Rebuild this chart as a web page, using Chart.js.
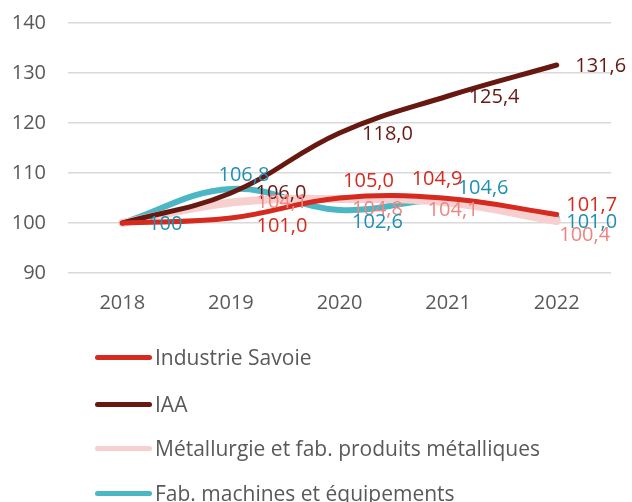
<!DOCTYPE html>
<html lang="fr">
<head>
  <meta charset="UTF-8" />
  <title>Indices industrie Savoie</title>
  <script src="https://cdn.jsdelivr.net/npm/chart.js"></script>
  <style>
    html, body { margin: 0; padding: 0; background: #fff; }
    body { width: 632px; height: 502px; overflow: hidden; position: relative; font-family: "Open Sans", Lato, sans-serif; }
    #wrap { position: absolute; left: 0; top: 0; width: 632px; height: 502px; }
    #legend { position: absolute; left: 95px; top: 342px; }
    .item { position: absolute; left: 0; height: 30px; white-space: nowrap; color: #595959; font-size: 21px; }
    .item span.line { position: absolute; left: 0; top: 13px; width: 57px; height: 5px; border-radius: 3px; }
    .item span.txt { position: absolute; left: 60px; top: 0px; line-height: 30px; }
  </style>
</head>
<body>
  <div id="wrap"><canvas id="chart" width="632" height="502"></canvas></div>
  <div id="legend"></div>

  <script>
    const years = ['2018', '2019', '2020', '2021', '2022'];
    const industrieSavoie = [100, 101.0, 105.0, 104.9, 101.7];
    const iaa = [100, 106.0, 118.0, 125.4, 131.6];
    const metallurgie = [100, 104.1, 104.8, 104.1, 100.4];
    const machines = [100, 106.8, 102.6, 104.6, 101.0];
    const yTicks = [90, 100, 110, 120, 130, 140];

    // label placement (pixel offsets from the point), null = hidden
    const offIndustrie = [null, [51, 8], [29, -17], [-11, -19], [35, -9]];
    const offIaa = [null, [50, 0], [48, 1], [46, 1], [44, 1]];
    const offMetal = [null, [51, 0], [38, 10], [5, 8], [28, 14]];
    const offMachines = [[43, 1], [13, -14], [38, 12], [35, -12], [35, 4]];

    const series = [
      { label: 'Industrie Savoie', data: industrieSavoie, color: '#d52a1d', text: '#d52a1d', width: 5, offs: offIndustrie },
      { label: 'IAA', data: iaa, color: '#661811', text: '#661811', width: 5, offs: offIaa },
      { label: 'Métallurgie et fab. produits métalliques', data: metallurgie, color: '#f7cfcf', text: '#ef8580', width: 8, offs: offMetal },
      { label: 'Fab. machines et équipements', data: machines, color: '#4bb6c4', text: '#1f8fb4', width: 6, offs: offMachines }
    ];

    function fmt(v) {
      if (v === 100) return '100';
      return v.toFixed(1).replace('.', ',');
    }

    const labelPlugin = {
      id: 'pointLabels',
      afterDatasetsDraw(chart) {
        const ctx = chart.ctx;
        ctx.save();
        ctx.font = '20px "Open Sans", Lato, sans-serif';
        ctx.textAlign = 'center';
        ctx.textBaseline = 'middle';
        chart.data.datasets.forEach((ds, i) => {
          const meta = chart.getDatasetMeta(i);
          const s = series[i];
          meta.data.forEach((pt, j) => {
            const o = s.offs[j];
            if (!o) return;
            ctx.fillStyle = s.text;
            ctx.fillText(fmt(ds.data[j]), pt.x + o[0], pt.y + o[1]);
          });
        });
        ctx.restore();
      }
    };

    new Chart(document.getElementById('chart'), {
      type: 'line',
      data: {
        labels: years,
        datasets: series.map(s => ({
          label: s.label,
          data: s.data,
          borderColor: s.color,
          backgroundColor: s.color,
          borderWidth: s.width,
          borderCapStyle: 'round',
          tension: 0.4,
          pointRadius: 0,
          fill: false
        }))
      },
      options: {
        responsive: false,
        animation: false,
        layout: { padding: { top: 23, right: 21, bottom: 184, left: 0 } },
        plugins: {
          legend: { display: false },
          tooltip: { enabled: false }
        },
        scales: {
          x: {
            offset: true,
            grid: { display: false },
            border: { display: false },
            ticks: { color: '#595959', font: { family: 'Open Sans', size: 20 }, padding: 10 },
            afterFit(scale) { scale.height = 45; }
          },
          y: {
            min: 90,
            max: 140,
            afterBuildTicks(scale) { scale.ticks = yTicks.map(v => ({ value: v })); },
            grid: { color: '#d9d9d9', lineWidth: 1.5, drawTicks: false },
            border: { display: false },
            ticks: { color: '#595959', font: { family: 'Open Sans', size: 20 }, padding: 22 },
            afterFit(scale) {
              scale.width = 68;
              scale.paddingTop = 0;
              scale.paddingBottom = 0;
            }
          }
        }
      },
      plugins: [labelPlugin]
    });

    // legend, one item per row
    const legend = document.getElementById('legend');
    const rowTops = [0, 47, 91, 136];
    series.forEach((s, i) => {
      const item = document.createElement('div');
      item.className = 'item';
      item.style.top = rowTops[i] + 'px';
      item.innerHTML = '<span class="line" style="background:' + s.color + '"></span><span class="txt">' + s.label + '</span>';
      legend.appendChild(item);
    });
  </script>
</body>
</html>
